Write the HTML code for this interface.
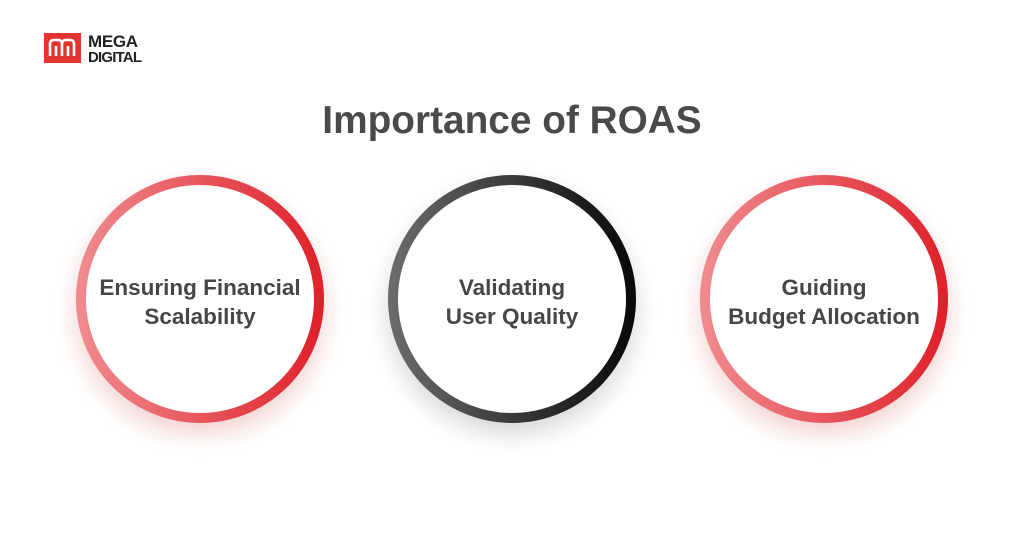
<!DOCTYPE html>
<html><head><style>
body{margin:0;width:1024px;height:549px;background:#fff;position:relative;overflow:hidden;font-family:"Liberation Sans",sans-serif}
.t{position:absolute;left:0;width:1024px;top:99px;text-align:center;font-size:38.8px;font-weight:bold;color:#4a4a4a}
.lbl{position:absolute;width:250px;text-align:center;font-size:22.5px;font-weight:bold;color:#464646;line-height:29px;top:273px}
</style></head><body>
<svg width="1024" height="549" style="position:absolute;left:0;top:0">
<defs>
<linearGradient id="r" x1="0" x2="1" y1="0" y2="0"><stop offset="0" stop-color="#ef8a8e"/><stop offset="1" stop-color="#e0222b"/></linearGradient>
<linearGradient id="k" x1="0" x2="1" y1="0" y2="0"><stop offset="0" stop-color="#6a6a6a"/><stop offset="1" stop-color="#0a0a0a"/></linearGradient>
<filter id="s" x="-30%" y="-30%" width="160%" height="160%"><feGaussianBlur stdDeviation="12"/></filter>
</defs>
<circle cx="200" cy="310" r="124" fill="#f3d0d0" filter="url(#s)"/>
<circle cx="512" cy="310" r="124" fill="#d8d8d8" filter="url(#s)"/>
<circle cx="824" cy="310" r="124" fill="#f3d0d0" filter="url(#s)"/>
<circle cx="200" cy="299" r="119" fill="#fff" stroke="url(#r)" stroke-width="10"/>
<circle cx="512" cy="299" r="119" fill="#fff" stroke="url(#k)" stroke-width="10"/>
<circle cx="824" cy="299" r="119" fill="#fff" stroke="url(#r)" stroke-width="10"/>
<rect x="44" y="33" width="37" height="30" fill="#e3342f"/>
<path d="M50 56 V44 Q50 40 54 40 H58 Q62 40 62 44 V56 M62 44 Q62 40 66 40 H70 Q74 40 74 44 V56 M56 56 V46 M68 56 V46" stroke="#fff" stroke-width="2.6" fill="none"/>
<text x="88" y="47" font-family="Liberation Sans" font-weight="bold" font-size="17" fill="#222" textLength="50">MEGA</text>
<text x="88" y="62" font-family="Liberation Sans" font-weight="bold" font-size="15" fill="#222" textLength="54">DIGITAL</text>
</svg>
<div class="t">Importance of ROAS</div>
<div class="lbl" style="left:75px">Ensuring Financial<br>Scalability</div>
<div class="lbl" style="left:387px">Validating<br>User Quality</div>
<div class="lbl" style="left:699px">Guiding<br>Budget Allocation</div>
</body></html>
